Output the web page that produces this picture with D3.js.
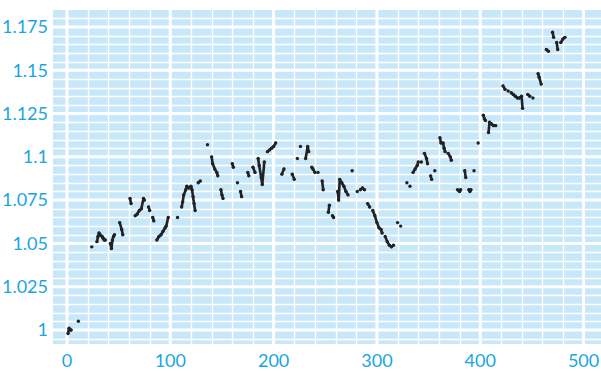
<!DOCTYPE html>
<html>
<head>
<meta charset="utf-8">
<script src="https://cdn.jsdelivr.net/npm/d3@7"></script>
<style>
  html, body { margin: 0; padding: 0; background: #fff; }
  svg { display: block; }
</style>
</head>
<body>
<div id="chart"></div>
<script>
const days = [
  1, 2, 3, 4, 11, 24, 29, 30, 31, 32, 34, 35, 36, 37, 42, 43, 44, 45, 46, 51,
  53, 54, 61, 62, 66, 68, 70, 72, 74, 75, 79, 80, 83, 84, 87, 89, 91, 93, 95, 96,
  98, 107, 111, 112, 113, 115, 116, 118, 120, 121, 122, 123, 124, 127, 129, 136, 140, 141, 143, 145,
  146, 149, 150, 151, 160, 161, 165, 168, 169, 175, 176, 180, 182, 185, 186, 188, 189, 191, 194, 196,
  198, 200, 202, 208, 210, 218, 220, 223, 226, 231, 233, 234, 237, 238, 240, 243, 247, 248, 253, 254,
  257, 258, 262, 263, 264, 266, 268, 270, 272, 276, 281, 284, 286, 288, 291, 293, 296, 298, 300, 302,
  304, 305, 308, 310, 312, 314, 316, 320, 323, 329, 332, 335, 337, 339, 340, 343, 346, 348, 349, 352,
  353, 356, 361, 362, 364, 365, 366, 369, 371, 372, 378, 380, 381, 385, 386, 389, 390, 391, 394, 398,
  403, 404, 405, 408, 409, 411, 413, 415, 422, 424, 427, 430, 432, 434, 436, 438, 440, 441, 446, 448,
  451, 456, 457, 459, 464, 466, 470, 471, 474, 475, 478, 480, 482
];
const rates = [
  0.998, 1.001, 1.000, 1.000, 1.005, 1.048, 1.051, 1.054, 1.056, 1.055, 1.054, 1.053, 1.052, 1.052, 1.050, 1.047, 1.052, 1.054, 1.055, 1.062,
  1.058, 1.055, 1.076, 1.073, 1.066, 1.067, 1.069, 1.070, 1.076, 1.075, 1.071, 1.069, 1.065, 1.063, 1.052, 1.054, 1.055, 1.057, 1.059, 1.060,
  1.065, 1.065, 1.071, 1.074, 1.078, 1.081, 1.083, 1.082, 1.083, 1.081, 1.077, 1.073, 1.069, 1.085, 1.086, 1.107, 1.100, 1.096, 1.093, 1.091,
  1.089, 1.081, 1.078, 1.076, 1.096, 1.094, 1.085, 1.080, 1.077, 1.091, 1.089, 1.094, 1.091, 1.099, 1.095, 1.088, 1.084, 1.097, 1.103, 1.104,
  1.105, 1.106, 1.108, 1.090, 1.093, 1.090, 1.087, 1.099, 1.106, 1.099, 1.106, 1.103, 1.094, 1.093, 1.091, 1.091, 1.086, 1.081, 1.068, 1.072,
  1.066, 1.065, 1.080, 1.075, 1.087, 1.085, 1.083, 1.080, 1.078, 1.092, 1.080, 1.081, 1.082, 1.081, 1.073, 1.071, 1.069, 1.066, 1.062, 1.059,
  1.058, 1.056, 1.054, 1.051, 1.049, 1.048, 1.049, 1.062, 1.060, 1.085, 1.083, 1.091, 1.093, 1.095, 1.097, 1.097, 1.102, 1.099, 1.096, 1.089,
  1.087, 1.092, 1.111, 1.108, 1.108, 1.105, 1.103, 1.102, 1.100, 1.098, 1.081, 1.080, 1.081, 1.092, 1.088, 1.081, 1.080, 1.081, 1.092, 1.108,
  1.124, 1.122, 1.121, 1.114, 1.120, 1.119, 1.118, 1.118, 1.141, 1.139, 1.138, 1.137, 1.136, 1.135, 1.134, 1.134, 1.135, 1.128, 1.136, 1.135,
  1.134, 1.148, 1.146, 1.142, 1.162, 1.161, 1.172, 1.169, 1.166, 1.162, 1.166, 1.168, 1.169
];

const xTicks = [0, 100, 200, 300, 400, 500];
const yTicks = [1, 1.025, 1.05, 1.075, 1.1, 1.125, 1.15, 1.175];
const yTickLabels = ['1', '1.025', '1.05', '1.075', '1.1', '1.125', '1.15', '1.175'];

const width = 601;
const height = 371;
const plot = { left: 53, right: 601, top: 10, bottom: 344 };

const x = d3.scaleLinear().domain([-13.55, 516.9]).range([plot.left, plot.right]);
const y = d3.scaleLinear().domain([0.9919, 1.1848]).range([plot.bottom, plot.top]);

const svg = d3.select('#chart').append('svg')
  .attr('width', width)
  .attr('height', height);

svg.append('rect')
  .attr('x', plot.left)
  .attr('y', plot.top)
  .attr('width', plot.right - plot.left)
  .attr('height', plot.bottom - plot.top)
  .attr('fill', '#c8e8f9');

// minor grid: every 20 days, every 0.005
const minorX = d3.range(0, 520, 20).filter(d => d % 100 !== 0);
const minorY = d3.range(199, 237).map(i => i * 0.005).filter(d => Math.round(d * 1000) % 25 !== 0);

const grid = svg.append('g').attr('stroke', '#fff');

grid.selectAll('.vminor')
  .data(minorX)
  .join('line')
  .attr('x1', d => Math.round(x(d)) + 0.5)
  .attr('x2', d => Math.round(x(d)) + 0.5)
  .attr('y1', plot.top)
  .attr('y2', plot.bottom)
  .attr('stroke-width', 1.3);

grid.selectAll('.hminor')
  .data(minorY)
  .join('line')
  .attr('x1', plot.left)
  .attr('x2', plot.right)
  .attr('y1', d => Math.round(y(d)) + 0.5)
  .attr('y2', d => Math.round(y(d)) + 0.5)
  .attr('stroke-width', 1.3);

grid.selectAll('.vmajor')
  .data(xTicks)
  .join('line')
  .attr('x1', d => x(d))
  .attr('x2', d => x(d))
  .attr('y1', plot.top)
  .attr('y2', plot.bottom)
  .attr('stroke-width', 3);

grid.selectAll('.hmajor')
  .data(yTicks)
  .join('line')
  .attr('x1', plot.left)
  .attr('x2', plot.right)
  .attr('y1', d => y(d))
  .attr('y2', d => y(d))
  .attr('stroke-width', 3);

// points; neighbouring days are joined into short strokes
const pts = days.map((d, i) => [d, rates[i]]);
const pairs = d3.pairs(pts).filter(([a, b]) => b[0] - a[0] <= 2);

const marks = svg.append('g');

marks.selectAll('line')
  .data(pairs)
  .join('line')
  .attr('x1', d => x(d[0][0]))
  .attr('y1', d => y(d[0][1]))
  .attr('x2', d => x(d[1][0]))
  .attr('y2', d => y(d[1][1]))
  .attr('stroke', '#222')
  .attr('stroke-width', 2.6)
  .attr('stroke-linecap', 'round');

marks.selectAll('circle')
  .data(pts)
  .join('circle')
  .attr('cx', d => x(d[0]))
  .attr('cy', d => y(d[1]))
  .attr('r', 1.7)
  .attr('fill', '#222');

// tick labels
const labels = svg.append('g')
  .attr('font-family', 'Lato, sans-serif')
  .attr('font-size', 18)
  .attr('fill', '#1aa6e2');

labels.selectAll('.ylab')
  .data(yTicks)
  .join('text')
  .attr('x', 48)
  .attr('y', d => y(d))
  .attr('dy', '0.35em')
  .attr('text-anchor', 'end')
  .text((d, i) => yTickLabels[i]);

labels.selectAll('.xlab')
  .data(xTicks)
  .join('text')
  .attr('x', d => x(d))
  .attr('y', 367)
  .attr('text-anchor', 'middle')
  .text(d => d);
</script>
</body>
</html>
